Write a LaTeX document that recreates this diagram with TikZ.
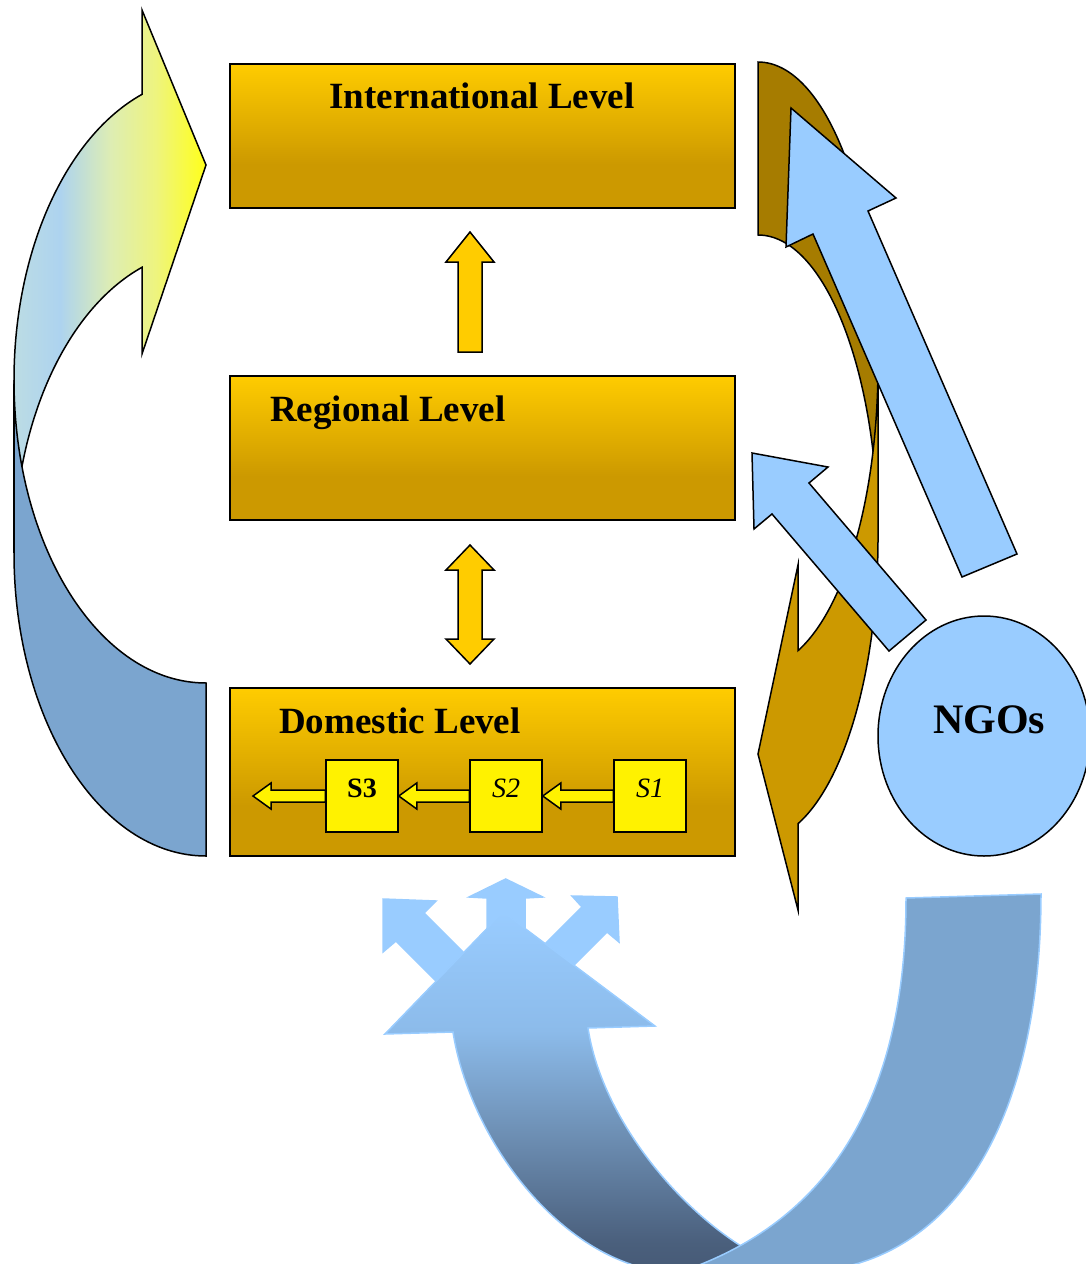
\documentclass[tikz,border=0pt]{standalone}
\usepackage{fontspec}
\setmainfont{Liberation Serif}
\usepackage{xcolor}
\usetikzlibrary{calc,shapes.geometric}

\definecolor{goldtop}{HTML}{FFCC00}
\definecolor{goldbot}{HTML}{CC9900}
\definecolor{bronze}{HTML}{A67C00}
\definecolor{ngoblue}{HTML}{99CCFF}
\definecolor{backblue}{HTML}{7BA5CF}
\definecolor{navyblue}{HTML}{465A76}
\definecolor{duskblue}{HTML}{4A5F7C}
\definecolor{slateblue}{HTML}{6E90B5}
\definecolor{midblue}{HTML}{8CBBEA}
\definecolor{fadeA}{HTML}{BCDCE4}
\definecolor{fadeB}{HTML}{ADD3EF}
\definecolor{fadeC}{HTML}{DDEDB4}
\definecolor{fadeD}{HTML}{EEF47E}
\definecolor{fadeE}{HTML}{FFFF1A}

\pgfdeclareverticalshading{levelfade}{100bp}{color(0bp)=(goldbot); color(25bp)=(goldbot); color(40bp)=(goldbot); color(75bp)=(goldtop); color(100bp)=(goldtop)}
\pgfdeclarehorizontalshading{leftfade}{100bp}{color(0bp)=(fadeA); color(25bp)=(fadeA); color(37bp)=(fadeB); color(50bp)=(fadeC); color(62bp)=(fadeD); color(75bp)=(fadeE); color(100bp)=(fadeE)}
\pgfdeclareverticalshading{bottomfade}{100bp}{color(0bp)=(navyblue); color(25bp)=(navyblue); color(29bp)=(duskblue); color(44.5bp)=(slateblue); color(58.5bp)=(midblue); color(75bp)=(ngoblue); color(100bp)=(ngoblue)}

\tikzset{
  levelbox/.style={draw=black, line width=1.5, shade, shading=levelfade, minimum width=505, inner sep=0},
  leveltext/.style={font=\fontsize{37}{44}\selectfont\bfseries, inner sep=0},
  sbox/.style={draw=black, line width=1.5, fill=yellow, minimum size=72, inner sep=0, text height=20, text depth=18, font=\fontsize{28}{32}\selectfont},
  sarrowstyle/.style={draw=black, line width=1.5, fill=yellow},
  levelarrow/.style={draw=black, line width=1.5, fill=goldtop},
  ngoarrow/.style={draw=black, line width=1.5, fill=ngoblue},
  outline/.style={draw=black, line width=1.5},
  paleedge/.style={draw=ngoblue, line width=1.5},
}

% block arrow pointing left, from one anchor to another
\newcommand{\sarrow}[2]{\draw[sarrowstyle] ($(#1)+(0,-6)$) -- ($(#2)+(18,-6)$) -- ($(#2)+(18,-13)$) -- (#2) -- ($(#2)+(18,13)$) -- ($(#2)+(18,6)$) -- ($(#1)+(0,6)$) -- cycle;}

\begin{document}
\begin{tikzpicture}[x=1pt,y=-1pt]
  \useasboundingbox (0,0) rectangle (1086,1264);
  \clip (0,0) rectangle (1086,1264);

  % left curved arrow
  \draw[outline, shading=leftfade] (14,380) arc[start angle=180, end angle=250.53, x radius=192, y radius=303]
    -- (142,10) -- (206,165) -- (142,354) -- (142,267.3)
    arc[start angle=250.53, end angle=180, x radius=192, y radius=303] -- cycle;
  \draw[outline, fill=backblue] (14,553) arc[start angle=180, end angle=90, x radius=192, y radius=303]
    -- (206,683) arc[start angle=90, end angle=180, x radius=192, y radius=303] -- cycle;

  % right curved arrow
  \draw[outline, fill=bronze] (758,62) arc[start angle=-90, end angle=0, x radius=120, y radius=303]
    -- (878,538) arc[start angle=0, end angle=-90, x radius=120, y radius=303] -- cycle;
  \draw[outline, fill=goldbot] (878,365) arc[start angle=0, end angle=70.53, x radius=120, y radius=303]
    -- (798,565) -- (758,754) -- (798,910) -- (798,823.7)
    arc[start angle=70.53, end angle=0, x radius=120, y radius=303] -- cycle;

  % arrows out of the NGOs
  \draw[ngoarrow] (791,108) -- (896,198) -- (868,211) -- (1017,554) -- (962,577) -- (813,234) -- (786,247) -- cycle;
  \draw[ngoarrow] (752,453) -- (828,467) -- (809,483) -- (926,620) -- (889,651) -- (772,514) -- (754,529) -- cycle;

  % bottom curved arrow
  \draw[paleedge, fill=ngoblue] (505.7,879) -- (542.7,897) -- (525,898) -- (525,964) -- (582,907) -- (572,896)
    -- (617,897) -- (619,942) -- (607,932) -- (574,965) -- (530,1009) -- (464,1009) -- (396,941)
    -- (383,952) -- (383,899) -- (436,901) -- (424,913) -- (487,976) -- (487,898) -- (469,897) -- cycle;
  \draw[paleedge, shading=bottomfade] (385,1034) -- (503,912) -- (655,1026) -- (588,1028)
    .. controls (605,1140) and (720,1255) .. (800,1272) -- (665,1272)
    .. controls (560,1260) and (470,1140) .. (453,1032) -- cycle;
  \draw[paleedge, fill=backblue] (906,898) -- (1041,894)
    .. controls (1041,1125) and (950,1270) .. (800,1272) -- (680,1272)
    .. controls (820,1225) and (906,1110) .. (906,898) -- cycle;

  % levels
  \node[levelbox, minimum height=144] (intl) at (482.5,136) {};
  \node[levelbox, minimum height=144] (reg) at (482.5,448) {};
  \node[levelbox, minimum height=168] (dom) at (482.5,772) {};
  \node[leveltext, anchor=base] (intltext) at (482,108) {International Level};
  \node[leveltext, anchor=base west] (regtext) at (270,421) {Regional Level};
  \node[leveltext, anchor=base west] (domtext) at (279,733) {Domestic Level};

  \draw[levelarrow] (458,352) -- (458,262) -- (446,262) -- (470,232) -- (494,262) -- (482,262) -- (482,352) -- cycle;
  \draw[levelarrow] (470,545) -- (494,570) -- (482,570) -- (482,639) -- (494,639) -- (470,664)
    -- (446,639) -- (458,639) -- (458,570) -- (446,570) -- cycle;

  % stages inside the domestic level
  \node[sbox] (s3) at (362,796) {\textbf{S3}};
  \node[sbox] (s2) at (506,796) {\textit{S2}};
  \node[sbox] (s1) at (650,796) {\textit{S1}};
  \coordinate (out) at (253,796);
  \sarrow{s1.west}{s2.east}
  \sarrow{s2.west}{s3.east}
  \sarrow{s3.west}{out}

  % NGOs
  \node[ellipse, draw=black, line width=1.5, fill=ngoblue, minimum width=212, minimum height=240, inner sep=0] (ngo) at (984,736) {};
  \node[font=\fontsize{42}{48}\selectfont\bfseries, anchor=base, inner sep=0] (ngotext) at (989,733) {NGOs};
\end{tikzpicture}
\end{document}
